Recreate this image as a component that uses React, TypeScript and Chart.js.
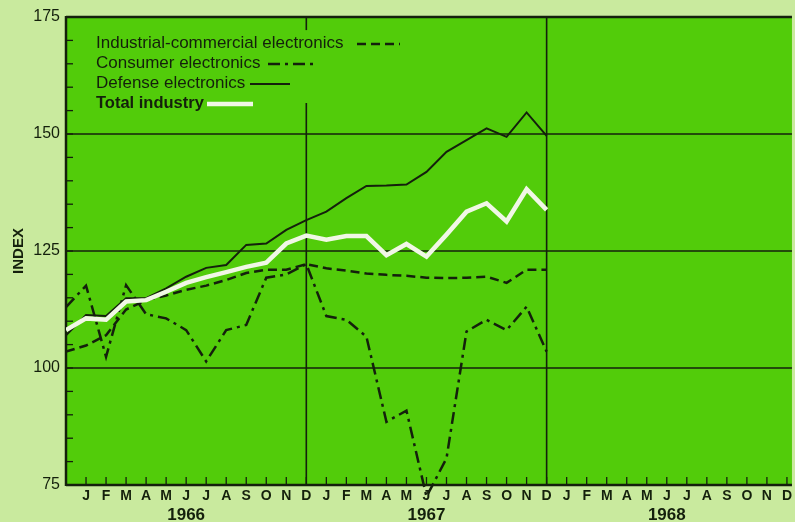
import React, { useEffect, useRef } from 'react';
import { Chart, registerables } from 'chart.js';

Chart.register(...registerables);

// ---- data ----
const MONTHS = ['J', 'F', 'M', 'A', 'M', 'J', 'J', 'A', 'S', 'O', 'N', 'D'];
const YEARS = ['1966', '1967', '1968'];
const TICK_LABELS = [...MONTHS, ...MONTHS, ...MONTHS]; // Jan 1966 .. Dec 1968 (x = 1..36), x = 0 is Dec 1965
const Y_LABELS = [75, 100, 125, 150, 175];
const SERIES_NAMES = [
  'Industrial-commercial electronics',
  'Consumer electronics',
  'Defense electronics',
  'Total industry',
];

// Dec 1965 .. Dec 1967
const INDUSTRIAL = [103.5, 104.8, 107.0, 112.5, 114.5, 115.5, 116.7, 117.6, 118.8, 120.3, 121.0, 121.0, 122.2, 121.3, 120.8, 120.2, 119.9, 119.7, 119.3, 119.2, 119.3, 119.5, 118.2, 121.0, 121.0];
const CONSUMER = [113.0, 117.6, 102.4, 117.7, 111.5, 110.6, 108.1, 101.4, 108.1, 109.2, 119.3, 120.0, 122.2, 111.1, 110.3, 106.7, 88.5, 90.9, 72.5, 80.7, 107.8, 110.3, 108.1, 113.1, 103.5];
const DEFENSE = [107.0, 111.3, 111.1, 114.9, 114.9, 117.0, 119.5, 121.4, 122.0, 126.3, 126.6, 129.5, 131.6, 133.4, 136.3, 138.9, 139.0, 139.2, 141.9, 146.2, 148.7, 151.2, 149.4, 154.6, 149.6];
const TOTAL = [108.1, 110.6, 110.3, 114.2, 114.5, 116.3, 118.2, 119.4, 120.5, 121.6, 122.5, 126.6, 128.3, 127.4, 128.2, 128.2, 124.1, 126.5, 123.8, 128.5, 133.4, 135.2, 131.3, 138.2, 133.8];

// ---- style ----
const PLOT_GREEN = '#52cc0a';
const PAGE_GREEN = '#c9ea9e';
const INK = '#14200c';
const FONT = '"Liberation Sans", Arial, Helvetica, sans-serif';

const toXY = (arr: number[]) => arr.map((v, i) => ({ x: i, y: v }));

const decor = {
  id: 'decor',
  beforeDraw(chart: any) {
    const { ctx, chartArea: a } = chart;
    ctx.save();
    ctx.fillStyle = PAGE_GREEN;
    ctx.fillRect(0, 0, chart.width, chart.height);
    ctx.fillStyle = PLOT_GREEN;
    ctx.fillRect(a.left, a.top, a.right - a.left, a.bottom - a.top);
    ctx.restore();
  },
  beforeDatasetsDraw(chart: any) {
    const { ctx, chartArea: a, scales } = chart;
    const x = scales.x;
    const y = scales.y;
    const seg = (x1: number, y1: number, x2: number, y2: number) => {
      ctx.beginPath();
      ctx.moveTo(x1, y1);
      ctx.lineTo(x2, y2);
      ctx.stroke();
    };
    ctx.save();
    ctx.strokeStyle = INK;
    ctx.lineWidth = 1.6;
    [100, 125, 150].forEach((v) => {
      const py = y.getPixelForValue(v);
      seg(a.left, py, a.right, py);
    });
    const x12 = x.getPixelForValue(12);
    seg(x12, a.top, x12, y.getPixelForValue(172.2));
    seg(x12, y.getPixelForValue(156.6), x12, a.bottom);
    const x24 = x.getPixelForValue(24);
    seg(x24, a.top, x24, a.bottom);
    ctx.lineWidth = 1.3;
    for (let v = 80; v < 175; v += 5) {
      const py = y.getPixelForValue(v);
      seg(a.left, py, a.left + 7, py);
    }
    TICK_LABELS.forEach((_, i) => {
      const px = x.getPixelForValue(i + 1);
      seg(px, a.bottom, px, a.bottom - 8);
    });
    ctx.lineWidth = 2.5;
    seg(a.left, a.top, a.right, a.top);
    seg(a.left, a.top - 1, a.left, a.bottom + 1);
    seg(a.left, a.bottom, a.right, a.bottom);
    ctx.restore();
  },
  afterDraw(chart: any) {
    const { ctx, chartArea: a, scales } = chart;
    const x = scales.x;
    ctx.save();
    // year labels
    ctx.fillStyle = INK;
    ctx.font = `bold 17px ${FONT}`;
    ctx.textAlign = 'center';
    ctx.textBaseline = 'middle';
    YEARS.forEach((yr, k) => {
      ctx.fillText(yr, x.getPixelForValue(6 + 12 * k), 515);
    });
    // legend
    const order = [1, 2, 3, 0]; // dataset indices in legend order
    const rows = [43, 63, 83, 103];
    const sampleX = [357, 268, 250, 207];
    const lens = [43, 47, 40, 46];
    ctx.textAlign = 'left';
    order.forEach((di, r) => {
      const ds = chart.data.datasets[di];
      const bold = r === 3;
      ctx.font = `${bold ? 'bold 16.5px' : '17px'} ${FONT}`;
      ctx.fillStyle = INK;
      const tx = a.left + 30;
      ctx.fillText(ds.label, tx, rows[r]);
      const sx = sampleX[r];
      ctx.beginPath();
      ctx.strokeStyle = ds.borderColor;
      ctx.lineWidth = ds.borderWidth;
      ctx.setLineDash(ds.borderDash || []);
      ctx.moveTo(sx, rows[r] + 1);
      ctx.lineTo(sx + lens[r], rows[r] + 1);
      ctx.stroke();
    });
    ctx.restore();
  },
};

export default function App() {
  const ref = useRef<HTMLCanvasElement | null>(null);
  useEffect(() => {
    if (!ref.current) return;
    const chart = new Chart(ref.current, {
      type: 'line',
      data: {
        datasets: [
          {
            label: SERIES_NAMES[3],
            data: toXY(TOTAL),
            borderColor: '#f1f7e6',
            borderWidth: 4.5,
            borderDash: [],
            order: 0,
          },
          {
            label: SERIES_NAMES[0],
            data: toXY(INDUSTRIAL),
            borderColor: INK,
            borderWidth: 2.5,
            borderDash: [9, 5],
            order: 1,
          },
          {
            label: SERIES_NAMES[1],
            data: toXY(CONSUMER),
            borderColor: INK,
            borderWidth: 2.5,
            borderDash: [12, 5, 3, 5],
            clip: false,
            order: 1,
          },
          {
            label: SERIES_NAMES[2],
            data: toXY(DEFENSE),
            borderColor: INK,
            borderWidth: 2,
            borderDash: [],
            order: 1,
          },
        ] as any,
      },
      options: {
        responsive: true,
        maintainAspectRatio: false,
        animation: false,
        layout: { padding: { top: 17, left: 0, right: 0, bottom: 0 } },
        elements: {
          point: { radius: 0, hoverRadius: 0 },
          line: { tension: 0, borderCapStyle: 'butt', borderJoinStyle: 'miter' },
        },
        plugins: {
          legend: { display: false },
          tooltip: { enabled: false },
        },
        scales: {
          x: {
            type: 'linear',
            min: 0,
            max: 36.25,
            grid: { display: false, drawTicks: false },
            border: { display: false },
            afterBuildTicks: (s: any) => {
              s.ticks = TICK_LABELS.map((_, i) => ({ value: i + 1 }));
            },
            afterFit: (s: any) => {
              s.height = 37;
            },
            ticks: {
              autoSkip: false,
              maxRotation: 0,
              minRotation: 0,
              padding: 3,
              color: INK,
              font: { size: 14, weight: 'bold', family: FONT },
              callback: (v: any) => TICK_LABELS[Math.round(v) - 1] ?? '',
            },
          },
          y: {
            type: 'linear',
            min: 75,
            max: 175,
            grid: { display: false, drawTicks: false },
            border: { display: false },
            afterBuildTicks: (s: any) => {
              s.ticks = Y_LABELS.map((v) => ({ value: v }));
            },
            afterFit: (s: any) => {
              s.width = 66;
            },
            ticks: {
              padding: 6,
              color: INK,
              font: { size: 16, family: FONT },
            },
            title: {
              display: true,
              text: 'INDEX',
              color: INK,
              font: { size: 15, weight: 'bold', family: FONT },
              padding: { top: 10, bottom: 0 },
            },
          },
        },
      } as any,
      plugins: [decor],
    });
    return () => chart.destroy();
  }, []);
  return (
    <div style={{ position: 'fixed', left: 0, top: 0, width: 795, height: 522, background: PAGE_GREEN }}>
      <canvas ref={ref} />
    </div>
  );
}
